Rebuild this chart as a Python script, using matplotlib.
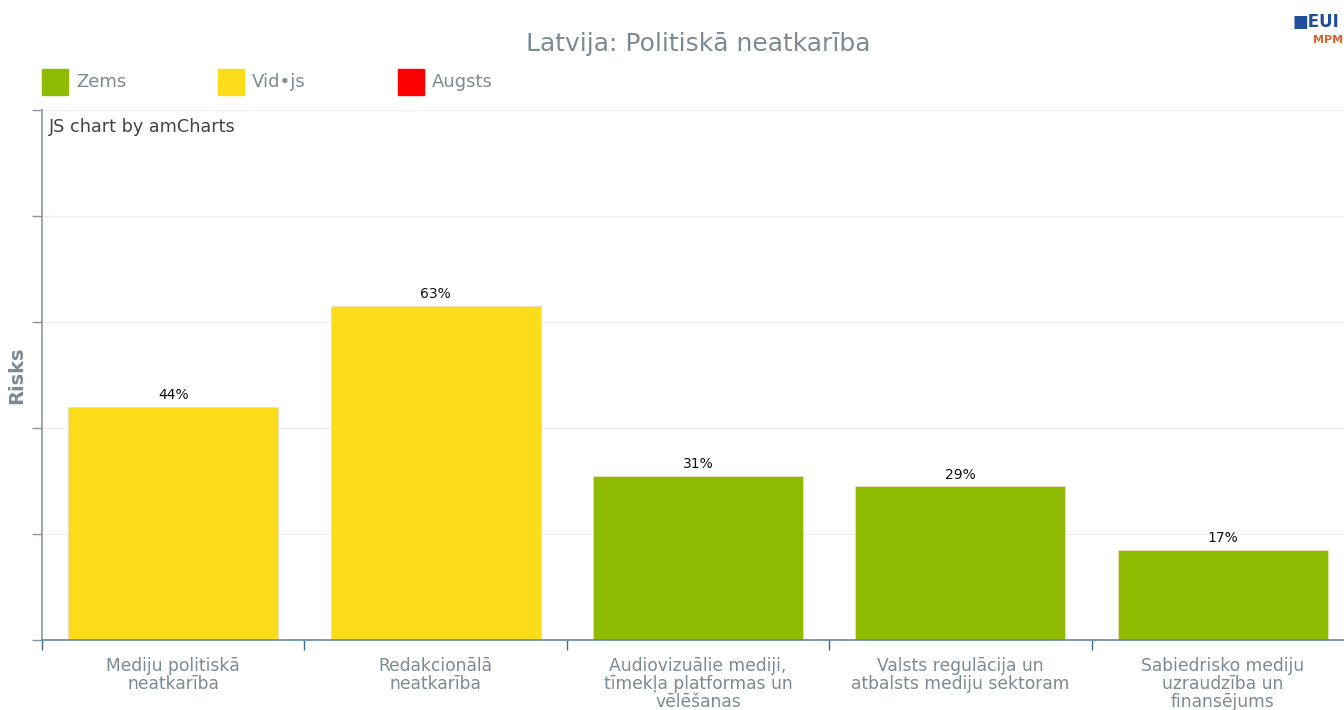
import matplotlib.pyplot as plt
from matplotlib.patches import Rectangle

# data
categories = [
    "Mediju politiskā\nneatkarība",
    "Redakcionālā\nneatkarība",
    "Audiovizuālie mediji,\ntīmekļa platformas un\nvēlēšanas",
    "Valsts regulācija un\natbalsts mediju sektoram",
    "Sabiedrisko mediju\nuzraudzība un\nfinansējums",
]
values = [44, 63, 31, 29, 17]
levels = ["Vid•js", "Vid•js", "Zems", "Zems", "Zems"]
legend_labels = ["Zems", "Vid•js", "Augsts"]
level_colors = {"Zems": "#8fbb00", "Vid•js": "#fbdc19", "Augsts": "#ff0000"}

gray = "#7d8a93"

fig = plt.figure(figsize=(13.44, 7.10), dpi=100)
# plot area runs a little past the right edge, as in the original
ax = fig.add_axes([42 / 1344, 70 / 710, 1312 / 1344, 530 / 710])

x = list(range(len(categories)))
colors = [level_colors[l] for l in levels]
ax.bar(x, values, width=0.80, color=colors, edgecolor="#f3d9c0",
       linewidth=0.6, zorder=2)
for xi, v in zip(x, values):
    ax.text(xi, v + 0.9, f"{v}%", ha="center", va="bottom", fontsize=10,
            color="#111111")

ax.set_xlim(-0.5, len(categories) - 0.5)
ax.set_ylim(0, 100)
ax.set_yticks([0, 20, 40, 60, 80, 100])
ax.set_yticklabels([])
ax.grid(axis="y", color="#eeeeee", linewidth=0.9, zorder=0)
ax.tick_params(axis="y", length=7, color="#8a97a0", width=1)

ax.set_xticks([i - 0.5 for i in x])
ax.set_xticklabels([])
ax.set_xticks(x, minor=True)
ax.set_xticklabels(categories, minor=True, fontsize=12.3, color=gray,
                   linespacing=1.0)
ax.tick_params(axis="x", which="minor", length=0, pad=12)
ax.tick_params(axis="x", which="major", length=7, color="#3d6a8c", width=1,
               direction="out")

for s in ["top", "right"]:
    ax.spines[s].set_visible(False)
ax.spines["left"].set_color("#8a97a0")
ax.spines["left"].set_linewidth(1.2)
ax.spines["bottom"].set_color("#5e8aa6")
ax.spines["bottom"].set_linewidth(1.2)

ax.set_ylabel("Risks", fontsize=14, fontweight="bold", color=gray)
ax.yaxis.set_label_coords(-16 / 1312, 0.5)

ax.text(7 / 1312, 0.968, "JS chart by amCharts", transform=ax.transAxes,
        fontsize=12.7, color="#444444", va="center")

fig.text(698 / 1344, 1 - 44 / 710, "Latvija: Politiskā neatkarība", ha="center",
         va="center", fontsize=18, color=gray)

# legend
legend_x = [42, 218, 398]
for lx, lab in zip(legend_x, legend_labels):
    fig.patches.append(Rectangle((lx / 1344, 1 - 95 / 710), 26 / 1344, 26 / 710,
                                 transform=fig.transFigure,
                                 color=level_colors[lab]))
    fig.text((lx + 34) / 1344, 1 - 82 / 710, lab, fontsize=13, color=gray,
             va="center")

# logo
fig.text(1293 / 1344, 1 - 22 / 710, "\u25A0EUI", fontsize=12, color="#1f4e9a",
         fontweight="bold", va="center")
fig.text(1313 / 1344, 1 - 40 / 710, "MPM", fontsize=8, color="#d9632b",
         fontweight="bold", va="center")

fig.savefig("out.png", dpi=100)
